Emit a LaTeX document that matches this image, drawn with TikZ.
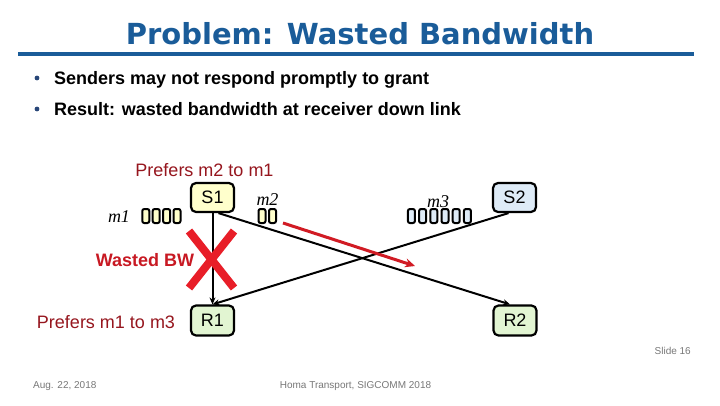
\documentclass[tikz,border=0pt]{standalone}
\usepackage{fontspec}
\setmainfont{Liberation Sans}
\newfontfamily\titlefont{DejaVu Sans}
\newfontfamily\serifit{Liberation Serif}
\usetikzlibrary{arrows.meta,calc}
\definecolor{titleblue}{RGB}{26,92,153}
\definecolor{bulletblue}{RGB}{40,70,120}
\definecolor{darkred}{RGB}{150,22,30}
\definecolor{wred}{RGB}{200,25,35}
\definecolor{xred}{RGB}{232,30,40}
\definecolor{yfill}{RGB}{255,255,204}
\definecolor{bfill}{RGB}{222,235,247}
\definecolor{gfill}{RGB}{226,245,210}
\definecolor{footgray}{RGB}{120,120,120}
\begin{document}
\begin{tikzpicture}[x=1pt,y=-1pt,
  hostbox/.style={draw, line width=2.2pt, rounded corners=5pt, minimum width=43pt, minimum height=29pt, inner sep=0pt, font=\fontsize{18}{20}\selectfont},
  pkt/.style={draw, line width=2pt, rounded corners=2pt, minimum width=7pt, minimum height=14pt, inner sep=0pt},
  link/.style={line width=2pt, -{Stealth[length=7pt,width=6pt]}},
  bodytext/.style={font=\fontsize{18}{20}\selectfont\bfseries, anchor=base west, inner sep=0pt},
  pref/.style={font=\fontsize{18}{20}\selectfont, text=darkred, inner sep=0pt},
  mlabel/.style={font=\fontsize{18}{20}\selectfont\serifit\itshape, inner sep=0pt},
  foot/.style={font=\fontsize{10}{12}\selectfont, text=footgray, inner sep=0pt}
]
\useasboundingbox (0,0) rectangle (720,405);
\fill[white] (0,0) rectangle (720,405);

% title and rule
\node[font=\fontsize{29}{34}\selectfont\titlefont\bfseries, text=titleblue, inner sep=0pt] (title) at (360,34) {Problem: Wasted Bandwidth};
\fill[titleblue] (18,52) rectangle (694,56);

% bullets
\fill[bulletblue] (37,78) circle (2.4);
\node[bodytext] (b1) at (54,84) {Senders may not respond promptly to grant};
\fill[bulletblue] (37,109) circle (2.4);
\node[bodytext] (b2) at (54,115) {Result: wasted bandwidth at receiver down link};

% hosts
\node[hostbox, fill=yfill] (S1) at (212.5,197.5) {S1};
\node[hostbox, fill=bfill] (S2) at (514.5,197.5) {S2};
\node[hostbox, fill=gfill, minimum height=30pt] (R1) at (212.5,320.5) {R1};
\node[hostbox, fill=gfill, minimum height=30pt] (R2) at (515,320.5) {R2};

% labels
\node[pref] (p1) at (204.5,170) {Prefers m2 to m1};
\node[pref] (p2) at (106,322) {Prefers m1 to m3};
\node[font=\fontsize{18}{20}\selectfont\bfseries, text=wred, inner sep=0pt] (wbw) at (145,260) {Wasted BW};

\node[mlabel] (m1) at (119,217) {m1};
\node[mlabel] (m2) at (267.5,200) {m2};
\node[mlabel] (m3) at (438,202) {m3};

% packets
\foreach \i in {0,...,3} \node[pkt, fill=yfill] (pa\i) at (145.8+10.4*\i,216) {};
\foreach \i in {0,1} \node[pkt, fill=yfill] (pb\i) at (262+10.5*\i,216) {};
\foreach \i in {0,...,5} \node[pkt, fill=bfill] (pc\i) at (411.4+11.2*\i,216) {};

% links
\draw[link] (S1.south) -- (R1.north);
\draw[link] ($(S1.south)+(6,0)$) -- ($(R2.north)+(-5,0)$);
\draw[link] ($(S2.south)+(-6,0)$) -- (R1.north);

% red arrow
\coordinate (ra) at (283,223);
\coordinate (rb) at (415,266);
\draw[line width=3pt, xred!90!black, -{Stealth[length=10pt,width=9pt]}] (ra) -- (rb);

% red X
\draw[xred, line width=8pt] (189,231) -- (234,288);
\draw[xred, line width=8pt] (234,231) -- (189,288);

% footer
\node[foot, anchor=east] (slide) at (691,351) {Slide 16};
\node[foot, anchor=west] (date) at (33,386) {Aug. 22, 2018};
\node[foot] (conf) at (355.5,386) {Homa Transport, SIGCOMM 2018};
\end{tikzpicture}
\end{document}
